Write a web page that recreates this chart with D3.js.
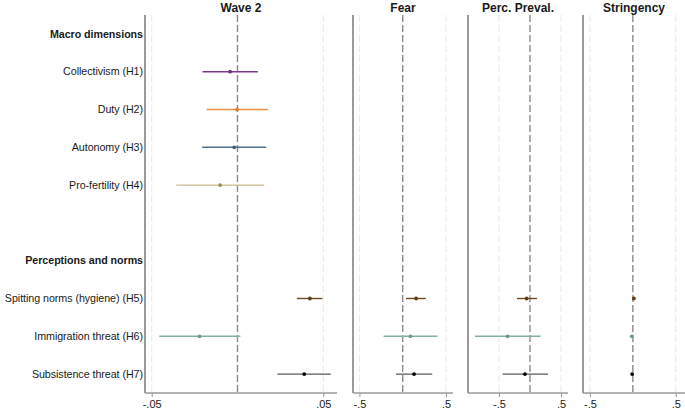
<!DOCTYPE html>
<html>
<head>
<meta charset="utf-8">
<style>
  body { margin: 0; background: #fff; }
  text { font-family: "Liberation Sans", Arial, sans-serif; fill: #1a1a1a; }
  .title { font-weight: bold; font-size: 12px; text-anchor: middle; }
  .rowlab { font-size: 10.7px; text-anchor: end; letter-spacing: -0.05px; }
  .rowlab.head { font-weight: bold; }
</style>
</head>
<body>
<svg class="chart"></svg>
<script src="https://cdn.jsdelivr.net/npm/d3@7"></script>
<script>
  // row labels, top to bottom ("" = empty spacer row)
  var rows = ["Macro dimensions", "Collectivism (H1)", "Duty (H2)", "Autonomy (H3)",
    "Pro-fertility (H4)", "", "Perceptions and norms", "Spitting norms (hygiene) (H5)",
    "Immigration threat (H6)", "Subsistence threat (H7)"];
  var headers = ["Macro dimensions", "Perceptions and norms"];

  var panels = ["Wave 2", "Fear", "Perc. Preval.", "Stringency"];
  var panelTicks = [[-0.05, 0.05], [-0.5, 0.5], [-0.5, 0.5], [-0.5, 0.5]];
  var tickLabels = [["-.05", ".05"], ["-.5", ".5"], ["-.5", ".5"], ["-.5", ".5"]];
  var panelDomains = [[-0.0539, 0.058], [-0.574, 0.581], [-1.0, 0.613], [-0.581, 0.608]];

  // estimates: [row, coef, lo, hi]
  var wave2 = [
    ["Collectivism (H1)", -0.0043, -0.0204, 0.0119],
    ["Duty (H2)", -0.0002, -0.0180, 0.0177],
    ["Autonomy (H3)", -0.0019, -0.0206, 0.0167],
    ["Pro-fertility (H4)", -0.0101, -0.0357, 0.0156],
    ["Spitting norms (hygiene) (H5)", 0.0422, 0.0346, 0.0495],
    ["Immigration threat (H6)", -0.0221, -0.0456, 0.0017],
    ["Subsistence threat (H7)", 0.0389, 0.0233, 0.0544]
  ];
  var fear = [
    ["Spitting norms (hygiene) (H5)", 0.155, 0.038, 0.267],
    ["Immigration threat (H6)", 0.089, -0.221, 0.403],
    ["Subsistence threat (H7)", 0.131, -0.078, 0.341]
  ];
  var prevalence = [
    ["Spitting norms (hygiene) (H5)", -0.055, -0.21, 0.113],
    ["Immigration threat (H6)", -0.361, -0.887, 0.171],
    ["Subsistence threat (H7)", -0.081, -0.442, 0.29]
  ];
  var stringency = [
    ["Spitting norms (hygiene) (H5)", 0.012, 0.004, 0.02],
    ["Immigration threat (H6)", -0.012, -0.02, -0.004],
    ["Subsistence threat (H7)", -0.008, -0.016, 0.0]
  ];
  var panelData = [wave2, fear, prevalence, stringency];

  var lineColors = {
    "Collectivism (H1)": "#7e3a8e", "Duty (H2)": "#e98f48", "Autonomy (H3)": "#4e6f8e",
    "Pro-fertility (H4)": "#c9bb90", "Spitting norms (hygiene) (H5)": "#6f4c22",
    "Immigration threat (H6)": "#87b0a2", "Subsistence threat (H7)": "#5a5a5a"
  };
  var dotColors = {
    "Collectivism (H1)": "#7a2d86", "Duty (H2)": "#e07f30", "Autonomy (H3)": "#3d5f80",
    "Pro-fertility (H4)": "#9a8b4c", "Spitting norms (hygiene) (H5)": "#5e3e14",
    "Immigration threat (H6)": "#6e9a8a", "Subsistence threat (H7)": "#000"
  };

  var W = 685, H = 412;
  var plotTop = 15, plotBottom = 393;
  var panelX = [[145, 337], [353, 453], [468, 568], [583, 685]];

  var svg = d3.select(".chart").attr("width", W).attr("height", H);

  var y = d3.scaleBand().domain(d3.range(rows.length))
    .range([plotTop, plotBottom]);
  function rowY(name) { return y(rows.indexOf(name)) + y.bandwidth() / 2; }

  // row labels
  svg.selectAll(".rowlab").data(rows.filter(function(d) { return d; }))
    .enter().append("text")
    .attr("class", function(d) { return "rowlab" + (headers.indexOf(d) >= 0 ? " head" : ""); })
    .attr("x", 143)
    .attr("y", function(d) { return rowY(d); })
    .attr("dy", "0.35em")
    .text(function(d) { return d; });

  panels.forEach(function(title, p) {
    var x = d3.scaleLinear().domain(panelDomains[p]).range(panelX[p]);
    var g = svg.append("g");

    g.append("text").attr("class", "title")
      .attr("x", (panelX[p][0] + panelX[p][1]) / 2).attr("y", 8)
      .attr("dy", "0.35em").text(title);

    // light grid at ticks
    g.selectAll(".grid").data(panelTicks[p]).enter().append("line")
      .attr("x1", function(d) { return x(d); }).attr("x2", function(d) { return x(d); })
      .attr("y1", plotTop).attr("y2", plotBottom)
      .attr("stroke", "#ececec").attr("stroke-width", 1.2)
      .attr("stroke-dasharray", "7,3");

    // reference line at zero
    g.append("line")
      .attr("x1", x(0)).attr("x2", x(0)).attr("y1", plotTop).attr("y2", plotBottom)
      .attr("stroke", "#8a8a8a").attr("stroke-width", 1.4)
      .attr("stroke-dasharray", "7,3");

    // bottom axis
    var axis = d3.axisBottom(x).tickValues(panelTicks[p]).tickSize(4)
      .tickFormat(function(d, i) { return tickLabels[p][i]; });
    var ax = g.append("g").attr("transform", "translate(0," + plotBottom + ")")
      .call(axis);
    ax.select(".domain").remove();
    ax.selectAll(".tick line").attr("stroke", "#999");
    ax.selectAll(".tick text").attr("font-size", 11).attr("fill", "#1a1a1a")
      .attr("font-family", "Liberation Sans, Arial, sans-serif").attr("y", 7);
    g.append("line").attr("x1", panelX[p][0]).attr("x2", panelX[p][1])
      .attr("y1", plotBottom).attr("y2", plotBottom).attr("stroke", "#9a9a9a").attr("stroke-width", 1.6);

    // left axis line
    g.append("line").attr("x1", panelX[p][0]).attr("x2", panelX[p][0])
      .attr("y1", plotTop).attr("y2", plotBottom).attr("stroke", "#9a9a9a").attr("stroke-width", 2);

    // CIs and points
    var est = g.selectAll(".est").data(panelData[p]).enter().append("g");
    est.append("line")
      .attr("x1", function(d) { return x(d[2]); }).attr("x2", function(d) { return x(d[3]); })
      .attr("y1", function(d) { return rowY(d[0]); }).attr("y2", function(d) { return rowY(d[0]); })
      .attr("stroke", function(d) { return lineColors[d[0]]; }).attr("stroke-width", 1.4);
    est.append("circle")
      .attr("cx", function(d) { return x(d[1]); }).attr("cy", function(d) { return rowY(d[0]); })
      .attr("r", 1.9)
      .attr("fill", function(d) { return dotColors[d[0]]; });
  });
</script>
</body>
</html>
